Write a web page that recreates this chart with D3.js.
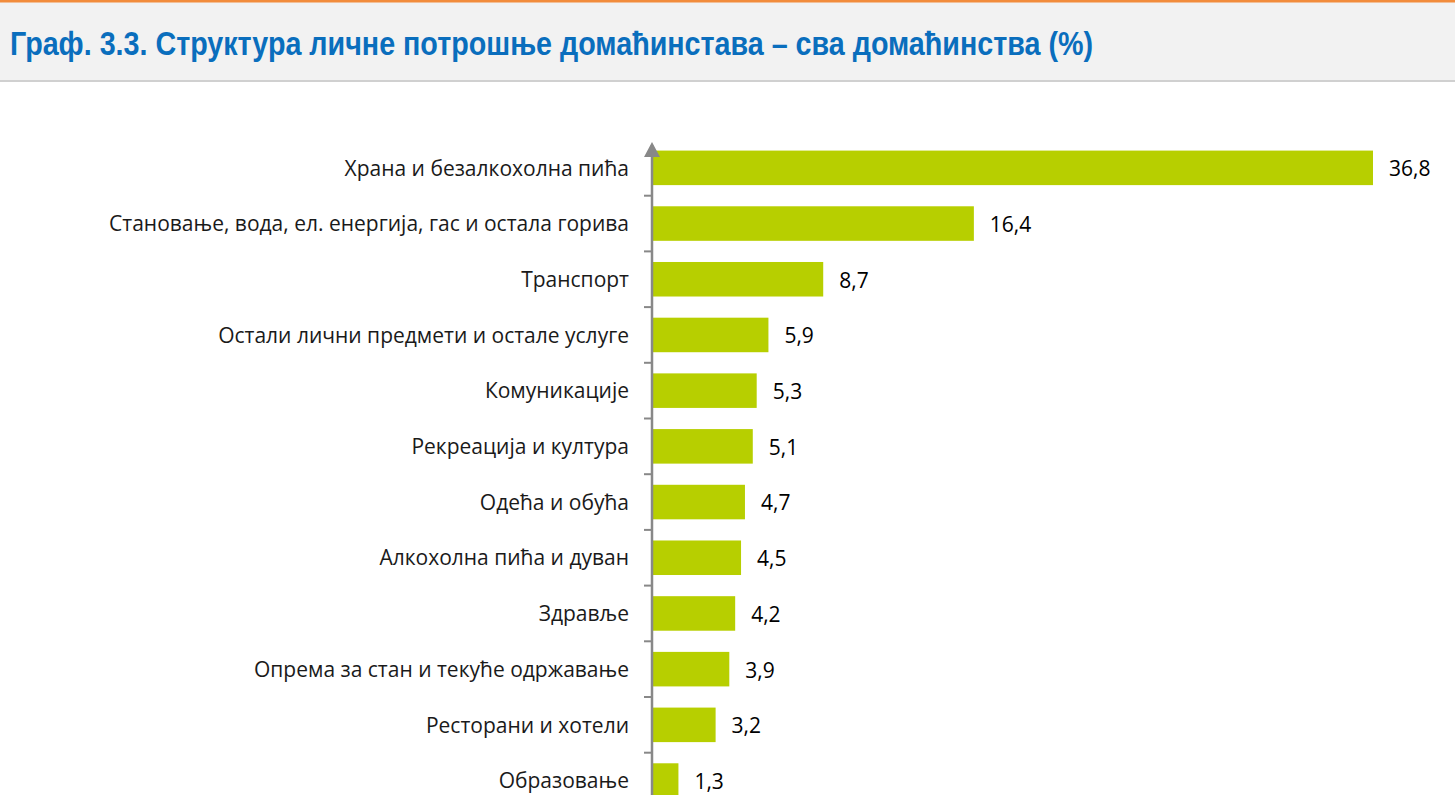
<!DOCTYPE html>
<html><head><meta charset="utf-8">
<script src="https://cdn.jsdelivr.net/npm/d3@7"></script>
<style>
html,body{margin:0;padding:0;background:#fff;overflow:hidden;}
</style></head>
<body>
<svg id="chart" width="1455" height="795"></svg>
<script>
const categories = [
  "Храна и безалкохолна пића",
  "Становање, вода, ел. енергија, гас и остала горива",
  "Транспорт",
  "Остали лични предмети и остале услуге",
  "Комуникације",
  "Рекреација и култура",
  "Одећа и обућа",
  "Алкохолна пића и дуван",
  "Здравље",
  "Опрема за стан и текуће одржавање",
  "Ресторани и хотели",
  "Образовање"
];
const values = [36.8, 16.4, 8.7, 5.9, 5.3, 5.1, 4.7, 4.5, 4.2, 3.9, 3.2, 1.3];
const valueLabels = ["36,8","16,4","8,7","5,9","5,3","5,1","4,7","4,5","4,2","3,9","3,2","1,3"];
const title = "Граф. 3.3. Структура личне потрошње домаћинстава – сва домаћинства (%)";

const svg = d3.select("#chart");
const W = 1455, H = 795;

// header
svg.append("rect").attr("x",0).attr("y",0).attr("width",W).attr("height",81).attr("fill","#f2f2f2");
svg.append("rect").attr("x",0).attr("y",0).attr("width",W).attr("height",2.5).attr("fill","#f28c3c");
svg.append("rect").attr("x",0).attr("y",80).attr("width",W).attr("height",2).attr("fill","#d0d0d0");
svg.append("text").attr("x",10).attr("y",55)
  .attr("font-family","'Liberation Sans Narrow','Arial Narrow','Liberation Sans',sans-serif")
  .attr("font-weight","bold").attr("font-size",33).attr("fill","#0a6ebd")
  .attr("textLength",1083).attr("lengthAdjust","spacingAndGlyphs")
  .text(title);

const x0 = 652;
const x = d3.scaleLinear().domain([0, 36.8]).range([x0+1, 1373]);
const y = d3.scaleBand().domain(categories).range([140, 140 + 55.7*categories.length]).paddingInner(0.38).paddingOuter(0.19);

const g = svg.append("g");
g.selectAll("rect.bar").data(values).join("rect").attr("class","bar")
  .attr("x", x(0)).attr("y", (d,i)=>y(categories[i]))
  .attr("width", d=>x(d)-x(0)).attr("height", y.bandwidth())
  .attr("fill","#b7cf00");

// value labels
g.selectAll("text.val").data(values).join("text").attr("class","val")
  .attr("x", d=>x(d)+16).attr("y",(d,i)=>y(categories[i])+y.bandwidth()/2+1)
  .attr("dy","0.35em").attr("font-family","'Open Sans',sans-serif").attr("font-size",21)
  .attr("fill","#000").text((d,i)=>valueLabels[i]);

// axis
const axis = d3.axisLeft(y).tickSize(0).tickPadding(23);
const ag = svg.append("g").attr("transform",`translate(${x0},1)`).call(axis);
ag.select(".domain").remove();
ag.selectAll("text").attr("font-family","'Open Sans',sans-serif").attr("font-size",21).attr("fill","#1a1a1a");
// boundary ticks
const step = y.step();
const bounds = d3.range(categories.length+1).map(i=>140 + i*step);
svg.selectAll("line.tk").data(bounds.slice(1)).join("line").attr("class","tk")
  .attr("x1",x0-8).attr("x2",x0).attr("y1",d=>d).attr("y2",d=>d)
  .attr("stroke","#888").attr("stroke-width",2);
svg.append("line").attr("x1",x0).attr("x2",x0).attr("y1",145).attr("y2",H)
  .attr("stroke","#888").attr("stroke-width",2.5);
svg.append("path").attr("d",`M${x0-8},157 L${x0},142 L${x0+8},157 Z`).attr("fill","#888");
</script>
</body></html>
